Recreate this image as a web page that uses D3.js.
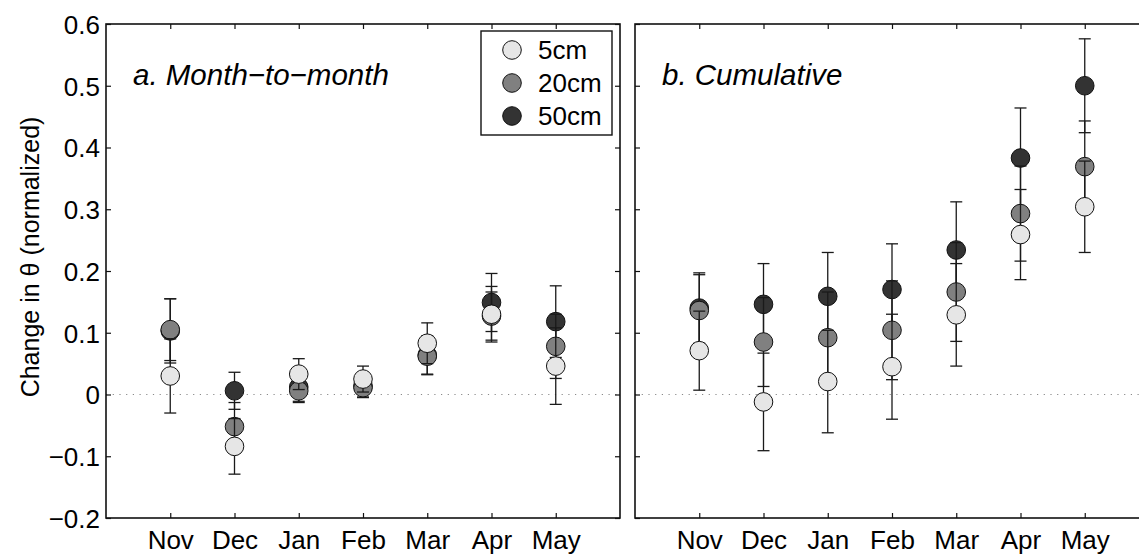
<!DOCTYPE html>
<html>
<head>
<meta charset="utf-8">
<script src="https://cdn.jsdelivr.net/npm/d3@7"></script>
<style>
  html, body { margin: 0; padding: 0; background: #fff; }
  svg { display: block; font-family: "Liberation Sans", Arial, sans-serif; }
</style>
</head>
<body>
<svg id="chart" width="1139" height="557"></svg>
<script>
// Months on the x axis and soil depths in the legend
const months = ["Nov", "Dec", "Jan", "Feb", "Mar", "Apr", "May"];
const depths = ["5cm", "20cm", "50cm"];
const yTicks = [-0.2, -0.1, 0, 0.1, 0.2, 0.3, 0.4, 0.5, 0.6];
const yTickLabels = ["\u22120.2", "\u22120.1", "0", "0.1", "0.2", "0.3", "0.4", "0.5", "0.6"];

// a. Month-to-month change in theta (normalized), mean and error
const month5 = [0.030, -0.084, 0.033, 0.025, 0.083, 0.130, 0.046];
const month5Err = [0.060, 0.045, 0.025, 0.021, 0.033, 0.045, 0.062];
const month20 = [0.105, -0.052, 0.006, 0.011, 0.062, 0.127, 0.078];
const month20Err = [0.050, 0.039, 0.017, 0.016, 0.030, 0.039, 0.052];
const month50 = [0.103, 0.006, 0.012, 0.014, 0.064, 0.149, 0.118];
const month50Err = [0.052, 0.030, 0.025, 0.018, 0.031, 0.047, 0.058];

// b. Cumulative change in theta (normalized), mean and error
const cum5 = [0.071, -0.012, 0.021, 0.045, 0.129, 0.259, 0.304];
const cum5Err = [0.064, 0.079, 0.083, 0.085, 0.083, 0.073, 0.074];
const cum20 = [0.136, 0.085, 0.092, 0.104, 0.166, 0.293, 0.369];
const cum20Err = [0.058, 0.072, 0.074, 0.080, 0.080, 0.077, 0.074];
const cum50 = [0.140, 0.146, 0.159, 0.170, 0.234, 0.383, 0.500];
const cum50Err = [0.057, 0.066, 0.071, 0.074, 0.078, 0.081, 0.076];

const fills = { "5cm": "#e6e6e6", "20cm": "#808080", "50cm": "#333333" };

const panels = [
  { title: "a. Month\u2212to\u2212month", left: 106, labels: true,
    series: [
      { depth: "50cm", values: month50, errs: month50Err },
      { depth: "20cm", values: month20, errs: month20Err },
      { depth: "5cm", values: month5, errs: month5Err }
    ] },
  { title: "b. Cumulative", left: 635, labels: false,
    series: [
      { depth: "50cm", values: cum50, errs: cum50Err },
      { depth: "20cm", values: cum20, errs: cum20Err },
      { depth: "5cm", values: cum5, errs: cum5Err }
    ] }
];

const svg = d3.select("#chart");
const plotTop = 24, plotBottom = 518, panelW = 514;
const fontSize = 26;
const tickLen = 5;
const markerR = 9.3;
const capHalf = 6;

const y = d3.scaleLinear().domain([-0.2, 0.6]).range([plotBottom, plotTop]);

panels.forEach(p => {
  const x = d3.scaleLinear().domain([0, months.length + 1]).range([p.left, p.left + panelW]);
  const g = svg.append("g");

  // zero reference line
  g.append("line")
    .attr("x1", x(0)).attr("x2", x(months.length + 1))
    .attr("y1", y(0)).attr("y2", y(0))
    .attr("stroke", "#8a8a8a").attr("stroke-width", 1.2)
    .attr("stroke-dasharray", "1.2,5.5");

  // error bars and markers, deepest first so shallow layers sit on top
  p.series.forEach(s => {
    const sg = g.append("g");
    const bars = sg.selectAll("g.err").data(s.values).join("g").attr("class", "err")
      .attr("stroke", "#1a1a1a").attr("stroke-width", 1.3);
    bars.append("line")
      .attr("x1", (d, i) => x(i + 1)).attr("x2", (d, i) => x(i + 1))
      .attr("y1", (d, i) => y(d - s.errs[i])).attr("y2", (d, i) => y(d + s.errs[i]));
    bars.append("line")
      .attr("x1", (d, i) => x(i + 1) - capHalf).attr("x2", (d, i) => x(i + 1) + capHalf)
      .attr("y1", (d, i) => y(d + s.errs[i])).attr("y2", (d, i) => y(d + s.errs[i]));
    bars.append("line")
      .attr("x1", (d, i) => x(i + 1) - capHalf).attr("x2", (d, i) => x(i + 1) + capHalf)
      .attr("y1", (d, i) => y(d - s.errs[i])).attr("y2", (d, i) => y(d - s.errs[i]));
    sg.selectAll("circle").data(s.values).join("circle")
      .attr("cx", (d, i) => x(i + 1)).attr("cy", d => y(d))
      .attr("r", markerR)
      .attr("fill", fills[s.depth])
      .attr("stroke", "#111").attr("stroke-width", 1);
  });

  // frame
  g.append("rect")
    .attr("x", x(0)).attr("y", plotTop)
    .attr("width", panelW).attr("height", plotBottom - plotTop)
    .attr("fill", "none").attr("stroke", "#111").attr("stroke-width", 1.6);

  // inward ticks on all four sides
  const monthIdx = months.map((m, i) => i + 1);
  const xAxisB = d3.axisBottom(x).tickValues(monthIdx)
    .tickSizeInner(-tickLen).tickSizeOuter(0)
    .tickFormat(i => months[i - 1]);
  const gb = g.append("g").attr("transform", `translate(0,${plotBottom})`).call(xAxisB);
  gb.select(".domain").remove();
  gb.selectAll(".tick line").attr("stroke", "#111").attr("stroke-width", 1.2);
  gb.selectAll(".tick text")
    .attr("font-size", fontSize).attr("font-family", "Liberation Sans, Arial, sans-serif")
    .attr("fill", "#000").attr("dy", null).attr("y", 31);

  const xAxisT = d3.axisTop(x).tickValues(monthIdx)
    .tickSizeInner(-tickLen).tickSizeOuter(0).tickFormat("");
  const gt = g.append("g").attr("transform", `translate(0,${plotTop})`).call(xAxisT);
  gt.select(".domain").remove();
  gt.selectAll(".tick line").attr("stroke", "#111").attr("stroke-width", 1.2);

  const yAxisL = d3.axisLeft(y).tickValues(yTicks)
    .tickSizeInner(-tickLen).tickSizeOuter(0)
    .tickFormat((d, i) => p.labels ? yTickLabels[i] : "");
  const gl = g.append("g").attr("transform", `translate(${x(0)},0)`).call(yAxisL);
  gl.select(".domain").remove();
  gl.selectAll(".tick line").attr("stroke", "#111").attr("stroke-width", 1.2);
  gl.selectAll(".tick text")
    .attr("font-size", fontSize).attr("font-family", "Liberation Sans, Arial, sans-serif")
    .attr("fill", "#000").attr("x", -6).attr("dy", "0.36em");

  const yAxisR = d3.axisRight(y).tickValues(yTicks)
    .tickSizeInner(-tickLen).tickSizeOuter(0).tickFormat("");
  const gr = g.append("g").attr("transform", `translate(${x(months.length + 1)},0)`).call(yAxisR);
  gr.select(".domain").remove();
  gr.selectAll(".tick line").attr("stroke", "#111").attr("stroke-width", 1.2);

  // panel title
  g.append("text")
    .attr("x", p.left + 27).attr("y", 84.5)
    .attr("font-size", 29.5).attr("font-style", "italic")
    .attr("fill", "#000")
    .text(p.title);
});

// y axis title
svg.append("text")
  .attr("transform", `translate(39,${(plotTop + plotBottom) / 2 - 14}) rotate(-90)`)
  .attr("text-anchor", "middle")
  .attr("font-size", 25).attr("fill", "#000")
  .text("Change in \u03b8 (normalized)");

// legend
const legend = svg.append("g").attr("transform", "translate(481,31)");
legend.append("rect")
  .attr("width", 131).attr("height", 104)
  .attr("fill", "#fff").attr("stroke", "#111").attr("stroke-width", 1.4);
const items = legend.selectAll("g.item").data(depths).join("g").attr("class", "item")
  .attr("transform", (d, i) => `translate(0,${19 + i * 33})`);
items.append("circle")
  .attr("cx", 31).attr("cy", 0).attr("r", markerR)
  .attr("fill", d => fills[d]).attr("stroke", "#111").attr("stroke-width", 1);
items.append("text")
  .attr("x", 57).attr("y", 0).attr("dy", "0.36em")
  .attr("font-size", fontSize).attr("fill", "#000")
  .text(d => d);
</script>
</body>
</html>
